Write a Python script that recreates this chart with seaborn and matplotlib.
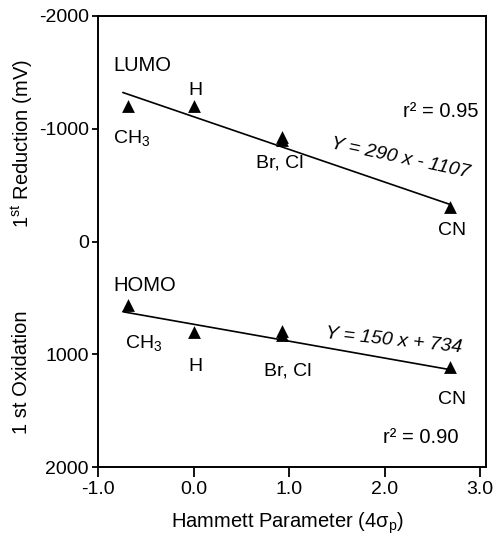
import matplotlib
matplotlib.use("Agg")
import matplotlib.pyplot as plt
import seaborn as sns
import pandas as pd
import numpy as np

# ---- data ----
substituents = ["CH3", "H", "Br", "Cl", "CN"]
hammett = [-0.69, 0.0, 0.93, 0.93, 2.68]
lumo_mv = [-1200, -1205, -930, -900, -305]
homo_mv = [560, 800, 790, 830, 1110]
lumo_fit = (290, -1107)
homo_fit = (150, 734)
fit_range = [-0.74, 2.69]
x_ticks = [-1.0, 0.0, 1.0, 2.0, 3.0]
y_ticks = [-2000, -1000, 0, 1000, 2000]

sns.set_theme(style="ticks")
plt.rcParams["font.family"] = ["Liberation Sans", "DejaVu Sans"]
plt.rcParams["text.color"] = "black"
plt.rcParams["axes.labelcolor"] = "black"
plt.rcParams["mathtext.fontset"] = "custom"
plt.rcParams["mathtext.rm"] = "Liberation Sans"
plt.rcParams["mathtext.it"] = "Liberation Sans:italic"
plt.rcParams["mathtext.sf"] = "Liberation Sans"

pts = pd.DataFrame({
    "x": hammett * 2,
    "y": lumo_mv + homo_mv,
    "orbital": ["LUMO"] * 5 + ["HOMO"] * 5,
})
fx = np.array(fit_range)
fits = pd.DataFrame({
    "x": list(fx) * 2,
    "y": list(lumo_fit[0] * fx + lumo_fit[1]) + list(homo_fit[0] * fx + homo_fit[1]),
    "orbital": ["LUMO"] * 2 + ["HOMO"] * 2,
})

fig = plt.figure(figsize=(4.96, 5.37), dpi=100)
ax = fig.add_axes([98 / 496, 1 - 467 / 537, 388 / 496, 451 / 537])

sns.lineplot(data=fits, x="x", y="y", units="orbital", estimator=None,
             color="black", linewidth=1.2, ax=ax)
sns.scatterplot(data=pts, x="x", y="y", marker="^", s=85, color="black",
                linewidth=0, ax=ax)

ax.set_xlim(-1.0, 3.06)
ax.set_ylim(2000, -2000)
ax.set_xticks(x_ticks, labels=[f"{v:.1f}" for v in x_ticks])
ax.set_yticks(y_ticks, labels=[str(v) for v in y_ticks])
ax.tick_params(axis="x", direction="out", length=7, width=1.3, labelsize=14,
               pad=3, color="black", labelcolor="black")
ax.tick_params(axis="y", direction="out", length=4.5, width=1.3, labelsize=14,
               pad=2, color="black", labelcolor="black")
for side in ["left", "bottom", "top", "right"]:
    ax.spines[side].set_visible(True)
    ax.spines[side].set_color("black")
    ax.spines[side].set_linewidth(1.4)
ax.set_xlabel("")
ax.set_ylabel("")

fs = 14
# LUMO annotations
ax.text(-0.84, -1560, "LUMO", fontsize=14.5, ha="left", va="center")
ax.text(0.02, -1340, "H", fontsize=fs, ha="center", va="center")
ax.text(-0.84, -915, "CH$_3$", fontsize=fs, ha="left", va="center")
ax.text(0.90, -700, "Br, Cl", fontsize=fs, ha="center", va="center")
ax.text(2.70, -100, "CN", fontsize=fs, ha="center", va="center")
ax.text(2.98, -1150, "r\u00b2 = 0.95", fontsize=14.5, ha="right", va="center")
ax.text(2.16, -735, "Y = 290 x - 1107", fontsize=fs, style="italic",
        ha="center", va="center", rotation=-12)
# HOMO annotations
ax.text(-0.84, 390, "HOMO", fontsize=14.5, ha="left", va="center")
ax.text(-0.72, 900, "CH$_3$", fontsize=fs, ha="left", va="center")
ax.text(0.02, 1105, "H", fontsize=fs, ha="center", va="center")
ax.text(0.99, 1150, "Br, Cl", fontsize=fs, ha="center", va="center")
ax.text(2.70, 1400, "CN", fontsize=fs, ha="center", va="center")
ax.text(2.77, 1740, "r\u00b2 = 0.90", fontsize=14.5, ha="right", va="center")
ax.text(2.09, 880, "Y = 150 x + 734", fontsize=fs, style="italic",
        ha="center", va="center", rotation=-6)

# axis labels
fig.text(288 / 496, 1 - 523 / 537, "Hammett Parameter (4\u03c3$_{\\mathrm{p}}$)",
         fontsize=14.5, ha="center", va="center")
fig.text(22 / 496, 1 - 144 / 537, "1$^{\\mathrm{st}}$ Reduction (mV)",
         fontsize=14.5, ha="center", va="center", rotation=90)
fig.text(22 / 496, 1 - 372 / 537, "1 st Oxidation",
         fontsize=14.5, ha="center", va="center", rotation=90)

fig.savefig("out.png", dpi=100)
